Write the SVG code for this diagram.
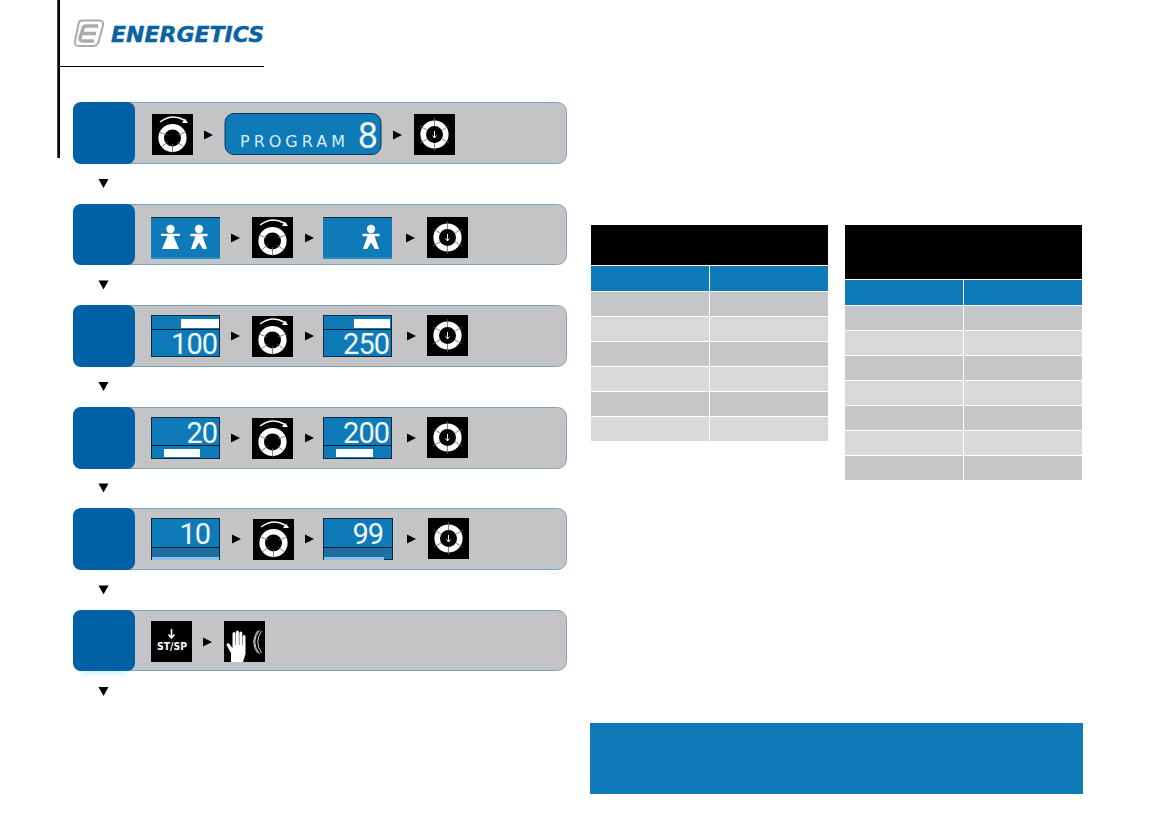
<svg xmlns="http://www.w3.org/2000/svg" width="1157" height="839" viewBox="0 0 1157 839">
<style>
.row{fill:#c4c4c6;stroke:#7fa3bf;stroke-width:1}
.blk{fill:#0060a6}
.disp{fill:#0f7ab8;stroke:#0b2a40;stroke-width:1}
.flat{fill:#0f7ab8}
.bar{fill:#fff}
.div{stroke:#04202f;stroke-width:1;fill:none}
.tri{fill:#000}
.dig{font-family:"Roboto","Liberation Sans",sans-serif;font-weight:400;font-size:29px;letter-spacing:-1px;fill:#eef8fd;text-anchor:end}
.dk{fill:#c5c6c8}.lt{fill:#d8d9db}.hd{fill:#0f7ab8}
</style>
<defs>
<g id="knob">
<rect width="41" height="41" fill="#000"/>
<circle cx="20.500" cy="24" r="11.300" fill="none" stroke="#fff" stroke-width="5.600"/>
<g stroke="#666" stroke-width=".8"><line x1="20.500" y1="30" x2="20.500" y2="39"/><line x1="15" y1="21" x2="7" y2="18"/><line x1="26" y1="21" x2="34" y2="18"/><line x1="16" y1="28" x2="9" y2="33"/><line x1="25" y1="28" x2="32" y2="33"/></g>
<path d="M8 8Q20 -1 32 6" fill="none" stroke="#fff" stroke-width="1.500"/>
<path d="M36 9L30 9L33 4.500Z" fill="#fff"/>
</g>
<g id="conf">
<rect width="41" height="41" fill="#000"/>
<circle cx="20.500" cy="20.500" r="11.300" fill="none" stroke="#fff" stroke-width="5.600"/>
<g stroke="#666" stroke-width=".8"><line x1="20.500" y1="4" x2="20.500" y2="12"/><line x1="20.500" y1="29" x2="20.500" y2="37"/><line x1="6" y1="12" x2="13" y2="16"/><line x1="35" y1="12" x2="28" y2="16"/><line x1="6" y1="29" x2="13" y2="25"/><line x1="35" y1="29" x2="28" y2="25"/></g>
<path d="M20.500 17V23.500M18.500 21.500L20.500 24L22.500 21.500" fill="none" stroke="#fff" stroke-width="1"/>
</g>
<g id="male" fill="#fff">
<circle cx="0" cy="-8.500" r="4.200"/>
<path d="M-8.500 -3.800H8.500V-1.300H3.600L8 11.500H3.800L0 5L-3.800 11.500H-8L-3.600 -1.300H-8.500Z"/>
</g>
<g id="female" fill="#fff">
<circle cx="0" cy="-8.500" r="4.200"/>
<path d="M-9.500 -3.800H9.500V-1.600H3L8.500 11.500H-8.500L-3 -1.600H-9.500Z"/>
</g>
<path id="rt" class="tri" d="M0 -4.500L9 0L0 4.500Z"/>
<path id="dn" class="tri" d="M-5 -4.500H5L0 4.500Z"/>
<filter id="glow" x="-30%" y="-100%" width="160%" height="300%"><feGaussianBlur stdDeviation="2.500"/></filter>
</defs>
<rect width="1157" height="839" fill="#fff"/>

<g id="header">
<rect x="57.300" y="0" width="2.700" height="158" fill="#000"/>
<rect x="60" y="66" width="204" height="1" fill="#000"/>
<g id="logo" fill="none" stroke="#a9abae">
<path d="M82 20.500H99Q104 20.500 103 25.500L98.500 42Q97.500 46 93 46H79Q74 46 75 41L78.500 24Q79 20.500 82 20.500Z" stroke-width="2"/>
<path d="M98 26H86Q83.500 26 83 28.500L80 38Q79.500 41 82.500 41H94M81.500 33.500H96" stroke-width="3.400"/>
</g>
<text x="111" y="42" font-family="DejaVu Sans,sans-serif" font-weight="700" font-style="italic" font-size="21" fill="#0a62a3" stroke="#0a62a3" stroke-width=".4" textLength="153" lengthAdjust="spacingAndGlyphs">ENERGETICS</text>
</g>

<g id="step1">
<rect class="row" x="73.500" y="102.500" width="493" height="61" rx="9"/>
<rect class="blk" x="73" y="102" width="62" height="62" rx="8"/>
<use href="#knob" x="152" y="114"/>
<rect x="225" y="113.500" width="156" height="41" rx="9" fill="#0f7ab8" stroke="#0b3a5c"/>
<text x="240" y="147" font-family="DejaVu Sans,sans-serif" font-size="16" fill="#d8edf8" textLength="105">PROGRAM</text>
<text class="dig" x="377" y="148" style="font-size:36px">8</text>
<use href="#conf" x="414" y="114"/>
</g>

<g id="step2">
<rect class="row" x="73.500" y="204.500" width="493" height="60" rx="9"/>
<rect class="blk" x="73" y="204" width="62" height="61" rx="8"/>
<rect class="flat" x="151" y="217" width="69" height="42"/><rect x="151" y="217" width="69" height="1" fill="#0b2a40"/><rect x="151" y="257" width="69" height="2" fill="#3b83b0"/><rect x="151" y="259" width="69" height="2" fill="#a8cfe6"/>
<use href="#female" x="170.500" y="237.500"/>
<use href="#male" x="199" y="237.500"/>
<use href="#knob" x="252" y="217"/>
<rect class="flat" x="323" y="217" width="69" height="42"/><rect x="323" y="217" width="69" height="1" fill="#0b2a40"/><rect x="323" y="257" width="69" height="2" fill="#3b83b0"/><rect x="323" y="259" width="69" height="2" fill="#a8cfe6"/>
<use href="#male" x="371" y="237.500"/>
<use href="#conf" x="427" y="217"/>
</g>

<g id="step3">
<rect class="row" x="73.500" y="305.500" width="493" height="61" rx="9"/>
<rect class="blk" x="73" y="305" width="62" height="62" rx="8"/>
<rect class="disp" x="151.500" y="315.500" width="68" height="41"/>
<rect class="bar" x="181" y="319" width="38" height="9"/><line class="div" x1="151" y1="329.500" x2="220" y2="329.500"/>
<text class="dig" x="217" y="354">100</text>
<use href="#knob" x="252" y="316"/>
<rect class="disp" x="323.500" y="315.500" width="68" height="41"/>
<rect class="bar" x="354" y="319" width="36" height="9"/><line class="div" x1="323" y1="329.500" x2="392" y2="329.500"/>
<text class="dig" x="389" y="354">250</text>
<use href="#conf" x="427" y="315"/>
</g>

<g id="step4">
<rect class="row" x="73.500" y="407.500" width="493" height="61" rx="9"/>
<rect class="blk" x="73" y="407" width="62" height="62" rx="8"/>
<rect class="disp" x="151.500" y="417.500" width="68" height="41"/>
<text class="dig" x="217" y="442.500">20</text>
<line class="div" x1="151" y1="445.500" x2="220" y2="445.500"/><rect class="bar" x="164" y="449" width="36" height="8"/>
<use href="#knob" x="252" y="418"/>
<rect class="disp" x="323.500" y="417.500" width="68" height="41"/>
<text class="dig" x="389" y="442.500">200</text>
<line class="div" x1="323" y1="445.500" x2="392" y2="445.500"/><rect class="bar" x="336" y="449" width="37" height="8"/>
<use href="#conf" x="427" y="417"/>
</g>

<g id="step5">
<rect class="row" x="73.500" y="508.500" width="493" height="61" rx="9"/>
<rect class="blk" x="73" y="508" width="62" height="62" rx="8"/>
<rect class="disp" x="151.500" y="518.500" width="68" height="41"/>
<rect x="152" y="548" width="67" height="9" fill="#1f6fa3"/><rect x="152" y="557" width="67" height="3" fill="#8cc2e6"/>
<line class="div" x1="151" y1="547.500" x2="220" y2="547.500"/>
<text class="dig" x="210" y="543.500">10</text>
<use href="#knob" x="253" y="519"/>
<rect class="disp" x="323.500" y="518.500" width="69" height="41"/>
<rect x="324" y="548" width="68" height="9" fill="#1f6fa3"/><rect x="324" y="557" width="60" height="3" fill="#8cc2e6"/>
<line class="div" x1="323" y1="547.500" x2="393" y2="547.500"/>
<text class="dig" x="383" y="543.500">99</text>
<use href="#conf" x="428" y="518"/>
</g>

<g id="step6">
<rect x="82" y="668" width="44" height="6" fill="#c8f0fb" filter="url(#glow)"/>
<rect class="row" x="73.500" y="610.500" width="493" height="60" rx="9"/>
<rect class="blk" x="73" y="610" width="62" height="61" rx="8"/>
<rect x="151" y="621" width="41" height="41" fill="#000"/>
<path d="M171.500 629V637M168.500 634.500L171.500 638L174.500 634.500" fill="none" stroke="#fff" stroke-width="1.600"/>
<text x="157" y="650" font-family="DejaVu Sans,sans-serif" font-weight="700" font-size="10.500" fill="#fff" textLength="30" lengthAdjust="spacingAndGlyphs">ST/SP</text>
<rect x="224" y="621" width="41" height="41" fill="#000"/>
<path d="M226.500 645L231 653V662H243L245.500 654V637Q245.500 635 244 635Q242.700 635 242.700 637V645H242.300V633.500Q242.300 631.500 240.800 631.500Q239.300 631.500 239.300 633.500V645H238.900V632.500Q238.900 630.500 237.400 630.500Q235.900 630.500 235.900 632.500V645H235.500V634Q235.500 632 234 632Q232.500 632 232.500 634V648L229 643.500Q226.500 642.500 226.500 645Z" fill="#fff"/>
<path d="M257.500 631Q250 642 257.500 653M259.500 630Q250 642 259.500 654M261.500 631Q254 642 261.500 653" fill="none" stroke="#fff" stroke-width=".8"/>
</g>

<g id="connectors">
<use href="#rt" x="204" y="135"/><use href="#rt" x="393" y="135"/>
<use href="#rt" x="231" y="238"/><use href="#rt" x="305" y="238"/><use href="#rt" x="406" y="238"/>
<use href="#rt" x="231" y="336"/><use href="#rt" x="305" y="336"/><use href="#rt" x="407" y="336"/>
<use href="#rt" x="231" y="438"/><use href="#rt" x="305" y="438"/><use href="#rt" x="407" y="438"/>
<use href="#rt" x="232" y="539"/><use href="#rt" x="305" y="539"/><use href="#rt" x="407" y="539"/>
<use href="#rt" x="203" y="642"/>
<use href="#dn" x="103.500" y="183.500"/><use href="#dn" x="103.500" y="285"/><use href="#dn" x="103.500" y="386.500"/><use href="#dn" x="103.500" y="488"/><use href="#dn" x="103.500" y="590"/><use href="#dn" x="103.500" y="691.500"/>
</g>

<g id="table1">
<rect x="591" y="225" width="237" height="40" fill="#000"/>
<rect class="hd" x="591" y="266" width="118" height="25"/><rect class="hd" x="710" y="266" width="118" height="25"/>
<rect class="dk" x="591" y="292" width="118" height="24"/><rect class="dk" x="710" y="292" width="118" height="24"/>
<rect class="lt" x="591" y="317" width="118" height="24"/><rect class="lt" x="710" y="317" width="118" height="24"/>
<rect class="dk" x="591" y="342" width="118" height="24"/><rect class="dk" x="710" y="342" width="118" height="24"/>
<rect class="lt" x="591" y="367" width="118" height="24"/><rect class="lt" x="710" y="367" width="118" height="24"/>
<rect class="dk" x="591" y="392" width="118" height="24"/><rect class="dk" x="710" y="392" width="118" height="24"/>
<rect class="lt" x="591" y="417" width="118" height="24"/><rect class="lt" x="710" y="417" width="118" height="24"/>
</g>

<g id="table2">
<rect x="845" y="225" width="237" height="54" fill="#000"/>
<rect class="hd" x="845" y="280" width="118" height="25"/><rect class="hd" x="964" y="280" width="118" height="25"/>
<rect class="dk" x="845" y="306" width="118" height="24"/><rect class="dk" x="964" y="306" width="118" height="24"/>
<rect class="lt" x="845" y="331" width="118" height="24"/><rect class="lt" x="964" y="331" width="118" height="24"/>
<rect class="dk" x="845" y="356" width="118" height="24"/><rect class="dk" x="964" y="356" width="118" height="24"/>
<rect class="lt" x="845" y="381" width="118" height="24"/><rect class="lt" x="964" y="381" width="118" height="24"/>
<rect class="dk" x="845" y="406" width="118" height="24"/><rect class="dk" x="964" y="406" width="118" height="24"/>
<rect class="lt" x="845" y="431" width="118" height="24"/><rect class="lt" x="964" y="431" width="118" height="24"/>
<rect class="dk" x="845" y="456" width="118" height="24"/><rect class="dk" x="964" y="456" width="118" height="24"/>
</g>

<g id="note"><rect x="590" y="723" width="493" height="71" fill="#0f7ab8"/></g>
</svg>
